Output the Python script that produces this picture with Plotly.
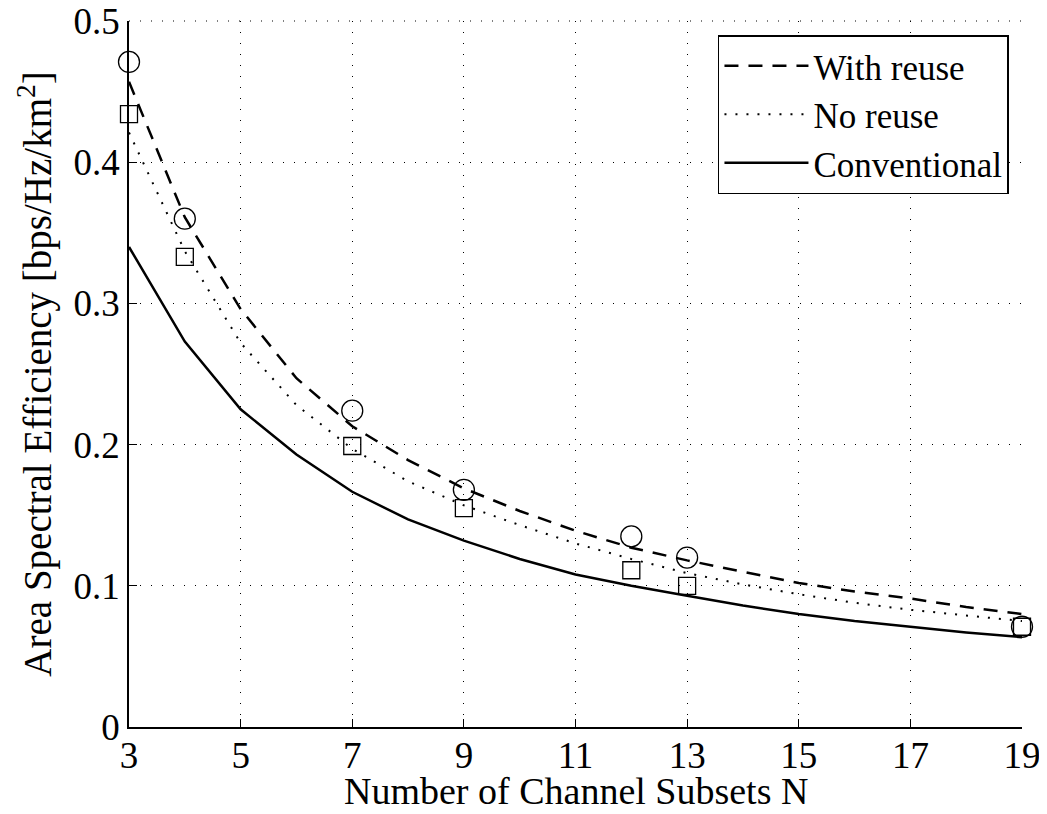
import plotly.graph_objects as go

N = list(range(3, 20))
with_reuse = [0.457, 0.361, 0.296, 0.247, 0.213, 0.189, 0.169, 0.153, 0.139, 0.127,
              0.118, 0.110, 0.102, 0.096, 0.091, 0.085, 0.080]
no_reuse = [0.421, 0.337, 0.272, 0.228, 0.197, 0.174, 0.157, 0.143, 0.130, 0.119,
            0.109, 0.101, 0.094, 0.088, 0.083, 0.079, 0.075]
conventional = [0.340, 0.273, 0.225, 0.193, 0.1666, 0.147, 0.132, 0.119, 0.108, 0.100,
                0.093, 0.086, 0.080, 0.075, 0.071, 0.067, 0.0636]

sim_N = [3, 4, 7, 9, 12, 13, 19]
sim_with_reuse = [0.471, 0.360, 0.224, 0.168, 0.135, 0.120, 0.071]
sim_no_reuse = [0.434, 0.333, 0.199, 0.155, 0.111, 0.100, 0.071]

x_ticks = [3, 5, 7, 9, 11, 13, 15, 17, 19]
y_ticks = [0, 0.1, 0.2, 0.3, 0.4, 0.5]
y_tick_text = ["0", "0.1", "0.2", "0.3", "0.4", "0.5"]

FONT = "Liberation Serif"

fig = go.Figure()
fig.add_trace(go.Scatter(x=N, y=with_reuse, mode="lines", name="With reuse",
                         line=dict(color="black", width=2.5, dash="14px,10px")))
fig.add_trace(go.Scatter(x=N, y=no_reuse, mode="lines", name="No reuse",
                         line=dict(color="black", width=2, dash="2px,9px")))
fig.add_trace(go.Scatter(x=N, y=conventional, mode="lines", name="Conventional",
                         line=dict(color="black", width=2.5)))
fig.add_trace(go.Scatter(x=sim_N, y=sim_with_reuse, mode="markers", showlegend=False,
                         cliponaxis=False,
                         marker=dict(symbol="circle-open", size=21, color="black",
                                     line=dict(width=1.3, color="black"))))
fig.add_trace(go.Scatter(x=sim_N, y=sim_no_reuse, mode="markers", showlegend=False,
                         cliponaxis=False,
                         marker=dict(symbol="square-open", size=17, color="black",
                                     line=dict(width=1.3, color="black"))))

grid = dict(showgrid=True, gridcolor="black", gridwidth=1, griddash="1px,10px")

fig.update_layout(
    width=1031, height=798,
    margin=dict(l=121, r=17, t=13, b=79),
    paper_bgcolor="white", plot_bgcolor="white",
    font=dict(family=FONT, color="black", size=37),
    showlegend=True,
    legend=dict(x=0.9854, y=0.980, xanchor="right", yanchor="top",
                bgcolor="white", bordercolor="black", borderwidth=1.5,
                font=dict(family=FONT, size=35), itemwidth=84,
                tracegroupgap=0),
    xaxis=dict(range=[3, 19], tickvals=x_ticks, ticks="inside", ticklen=8,
               tickcolor="black", showline=True, linecolor="black", linewidth=1.5,
               zeroline=False, automargin=False, ticklabeloverflow="allow",
               ticklabelstandoff=-5,
               tickfont=dict(family=FONT, size=37),
               **grid),
    yaxis=dict(range=[0, 0.5], tickvals=y_ticks, ticktext=y_tick_text, ticks="inside",
               ticklen=8, tickcolor="black", showline=True, linecolor="black",
               linewidth=1.5, zeroline=False, automargin=False,
               ticklabeloverflow="allow",
               tickfont=dict(family=FONT, size=37),
               title=dict(text="Area Spectral Efficiency [bps/Hz/km<sup>2</sup>]",
                          standoff=10, font=dict(family=FONT, size=39)),
               **grid),
    shapes=[dict(type="line", xref="paper", yref="paper", x0=0, x1=1, y0=1, y1=1,
                 layer="below", line=dict(color="black", width=1, dash="1px,10px"))],
    annotations=[dict(text="Number of Channel Subsets N", xref="paper", yref="paper",
                      x=0.5, y=-0.0907, xanchor="center", yanchor="middle",
                      showarrow=False, font=dict(family=FONT, size=38))],
)

fig.write_html("out.html")
